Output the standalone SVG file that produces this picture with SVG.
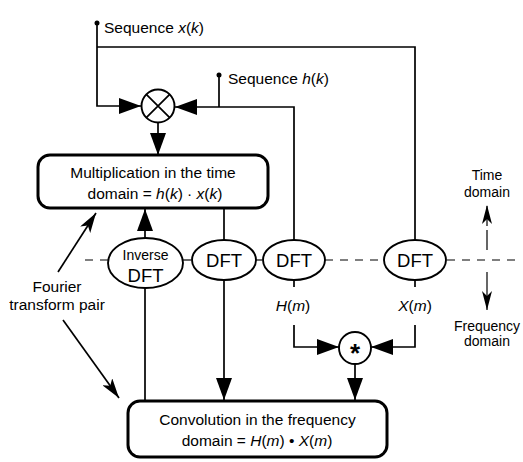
<svg xmlns="http://www.w3.org/2000/svg" width="523" height="462" viewBox="0 0 523 462">
<style>
text{font-family:"Liberation Sans",Arial,sans-serif;fill:#000}
.t{font-size:15.5px}
.s{font-size:14px}
.d{font-size:18.5px}
.c{stroke:#000;stroke-width:1.7;fill:none}
.box{stroke:#000;stroke-width:3;fill:#fff}
.el{stroke:#000;stroke-width:1.9;fill:#fff}
.dash{stroke:#000;stroke-width:1.2;fill:none;stroke-dasharray:8 7}
.thin{stroke:#000;stroke-width:1.2;fill:none}
.i{font-style:italic}
</style>
<defs>
<marker id="ah" viewBox="0 0 22 16" refX="22" refY="8" markerWidth="22" markerHeight="16" markerUnits="userSpaceOnUse" orient="auto"><path d="M0,0 L22,8 L0,16 z" fill="#000"/></marker>
<marker id="ah2" viewBox="0 0 20 12" refX="20" refY="6" markerWidth="20" markerHeight="12" markerUnits="userSpaceOnUse" orient="auto"><path d="M0,0 L20,6 L0,12 L5,6 z" fill="#000"/></marker>
<marker id="ah3" viewBox="0 0 19 10" refX="19" refY="5" markerWidth="19" markerHeight="10" markerUnits="userSpaceOnUse" orient="auto"><path d="M0,0 L19,5 L0,10 L5,5 z" fill="#000"/></marker>
</defs>
<rect width="523" height="462" fill="#fff"/>
<g id="connectors">
<path class="c" d="M97,23 V106 H141" marker-end="url(#ah)"/>
<path class="c" d="M97,47 H415 V240"/>
<path class="c" d="M219,75 V107"/>
<path class="c" d="M294,240 V107 H175" marker-end="url(#ah)"/>
<path class="c" d="M158,123 V155" marker-end="url(#ah)"/>
<path class="c" d="M145,238 V209" marker-end="url(#ah)"/>
<path class="c" d="M224,208 V240"/>
<path class="c" d="M145,288 V401"/>
<path class="c" d="M224,280 V400" marker-end="url(#ah)"/>
<path class="c" d="M294,280 V287"/>
<path class="c" d="M294,325 V347 H339" marker-end="url(#ah)"/>
<path class="c" d="M415,280 V287"/>
<path class="c" d="M415,325 V347 H371" marker-end="url(#ah)"/>
<path class="c" d="M355,364 V400" marker-end="url(#ah)"/>
<path class="c" d="M58,272 L96,213" marker-end="url(#ah2)"/>
<path class="c" d="M63,320 L119,398" marker-end="url(#ah2)"/>
<path class="dash" d="M85,260 H108"/>
<path class="dash" d="M183,260 H191"/>
<path class="dash" d="M254,260 H263"/>
<path class="dash" d="M325,260 H384"/>
<path class="dash" d="M447,260 H518"/>
<path class="thin" d="M487,250 V205" stroke-dasharray="20 4" marker-end="url(#ah3)"/>
<path class="thin" d="M487,272 V310" marker-end="url(#ah3)"/>
</g>
<g id="seq-x">
<circle cx="97" cy="23" r="2.5" fill="#000"/>
<text class="t" x="104" y="33">Sequence <tspan class="i">x</tspan>(<tspan class="i">k</tspan>)</text>
</g>
<g id="seq-h">
<circle cx="219" cy="75" r="2.5" fill="#000"/>
<text class="t" x="228" y="84">Sequence <tspan class="i">h</tspan>(<tspan class="i">k</tspan>)</text>
</g>
<g id="multiplier">
<circle cx="158" cy="106" r="16.5" class="el"/>
<path class="c" d="M146.3,94.3 L169.7,117.7 M169.7,94.3 L146.3,117.7"/>
</g>
<g id="mult-box">
<rect class="box" x="38" y="155" width="230" height="53" rx="12"/>
<text class="t" x="153" y="178" text-anchor="middle">Multiplication in the time</text>
<text class="t" x="155" y="199" text-anchor="middle">domain = <tspan class="i">h</tspan>(<tspan class="i">k</tspan>) · <tspan class="i">x</tspan>(<tspan class="i">k</tspan>)</text>
</g>
<g id="idft">
<ellipse class="el" cx="145.5" cy="263" rx="37.5" ry="25"/>
<text class="s" x="145.5" y="260" text-anchor="middle">Inverse</text>
<text class="d" x="145.5" y="282" text-anchor="middle">DFT</text>
</g>
<g id="dft-y">
<ellipse class="el" cx="224" cy="260" rx="32" ry="20"/>
<text class="d" x="224" y="267" text-anchor="middle">DFT</text>
</g>
<g id="dft-h">
<ellipse class="el" cx="294" cy="260" rx="31" ry="20"/>
<text class="d" x="294" y="267" text-anchor="middle">DFT</text>
<text class="t" x="293" y="311" text-anchor="middle"><tspan class="i">H</tspan>(<tspan class="i">m</tspan>)</text>
</g>
<g id="dft-x">
<ellipse class="el" cx="415" cy="260" rx="31" ry="20"/>
<text class="d" x="415" y="267" text-anchor="middle">DFT</text>
<text class="t" x="415" y="311" text-anchor="middle"><tspan class="i">X</tspan>(<tspan class="i">m</tspan>)</text>
</g>
<g id="convolver">
<circle cx="355" cy="348" r="16" class="el"/>
<text x="355" y="362" text-anchor="middle" font-size="26" font-weight="bold">*</text>
</g>
<g id="conv-box">
<rect class="box" x="128" y="401" width="259" height="56" rx="12"/>
<text class="t" x="257.5" y="425" text-anchor="middle">Convolution in the frequency</text>
<text class="t" x="257" y="446" text-anchor="middle">domain = <tspan class="i">H</tspan>(<tspan class="i">m</tspan>) • <tspan class="i">X</tspan>(<tspan class="i">m</tspan>)</text>
</g>
<g id="fourier-label">
<text class="t" x="57" y="292" text-anchor="middle">Fourier</text>
<text class="t" x="57" y="310" text-anchor="middle">transform pair</text>
</g>
<g id="time-label">
<text class="s" x="487" y="180" text-anchor="middle">Time</text>
<text class="s" x="487" y="197" text-anchor="middle">domain</text>
</g>
<g id="freq-label">
<text class="s" x="487" y="331" text-anchor="middle">Frequency</text>
<text class="s" x="487" y="346" text-anchor="middle">domain</text>
</g>
</svg>
